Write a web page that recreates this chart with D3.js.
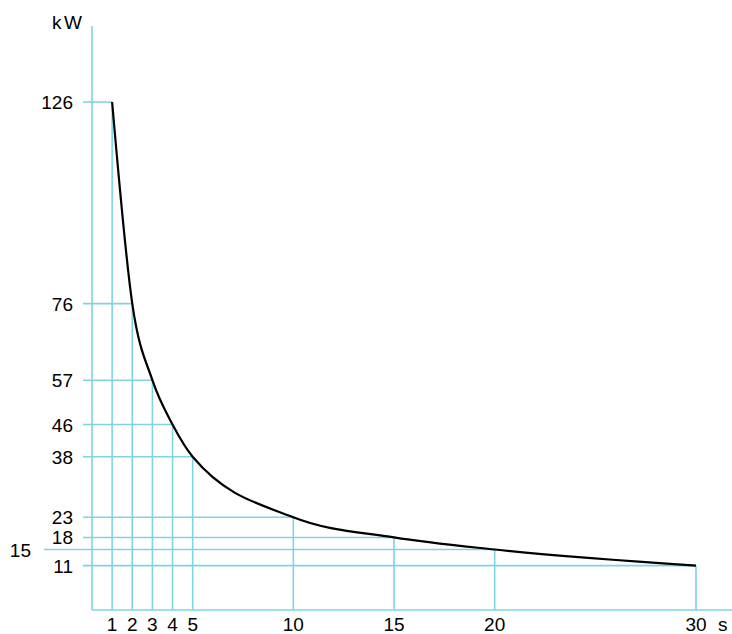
<!DOCTYPE html>
<html><head><meta charset="utf-8">
<script src="https://cdn.jsdelivr.net/npm/d3@7"></script>
<style>body{margin:0;background:#fff}svg{display:block}text{font-family:"Liberation Sans",Arial,sans-serif;font-size:19px;fill:#000}</style>
</head><body>
<script>
const seconds = [1, 2, 3, 4, 5, 10, 15, 20, 30];
const power = [126, 76, 57, 46, 38, 23, 18, 15, 11];
const yTickLabels = ["126", "76", "57", "46", "38", "23", "18", "15", "11"];
const xTickLabels = ["1", "2", "3", "4", "5", "10", "15", "20", "30"];
const xUnit = "s", yUnit = "kW";

const W = 732, H = 634;
const grid = "#7fd4e4";
const svg = d3.select("body").append("svg").attr("width", W).attr("height", H);
const x = d3.scaleLinear().domain([0, 30]).range([92, 696]);
const y = d3.scaleLinear().domain([0, 126]).range([610, 102]);
const data = seconds.map((s, i) => ({s, p: power[i]}));

const g = svg.append("g").attr("stroke", grid).attr("stroke-width", 1.6).attr("fill", "none");
data.forEach(d => g.append("line").attr("x1", x(d.s)).attr("x2", x(d.s)).attr("y1", y(0)).attr("y2", y(d.p)));
data.forEach(d => g.append("line").attr("x1", d.p === 15 ? 44 : 83).attr("x2", x(d.s)).attr("y1", y(d.p)).attr("y2", y(d.p)));
g.append("line").attr("x1", x(0)).attr("x2", W).attr("y1", y(0)).attr("y2", y(0));
g.append("line").attr("x1", x(0)).attr("x2", x(0)).attr("y1", y(0)).attr("y2", 26);

svg.append("path").datum(data)
  .attr("d", d3.line().x(d => x(d.s)).y(d => y(d.p)).curve(d3.curveMonotoneX))
  .attr("fill", "none").attr("stroke", "#000").attr("stroke-width", 2.2);

power.forEach((p, i) => {
  svg.append("text").attr("x", p === 15 ? 31 : 73).attr("y", y(p) + 7)
    .attr("text-anchor", "end").text(yTickLabels[i]);
});
seconds.forEach((s, i) => {
  svg.append("text").attr("x", x(s)).attr("y", 631).attr("text-anchor", "middle").text(xTickLabels[i]);
});
svg.append("text").attr("x", 718).attr("y", 631).text(xUnit);
svg.append("text").attr("x", 52).attr("y", 29).attr("textLength", 30).text(yUnit);
</script>
</body></html>
